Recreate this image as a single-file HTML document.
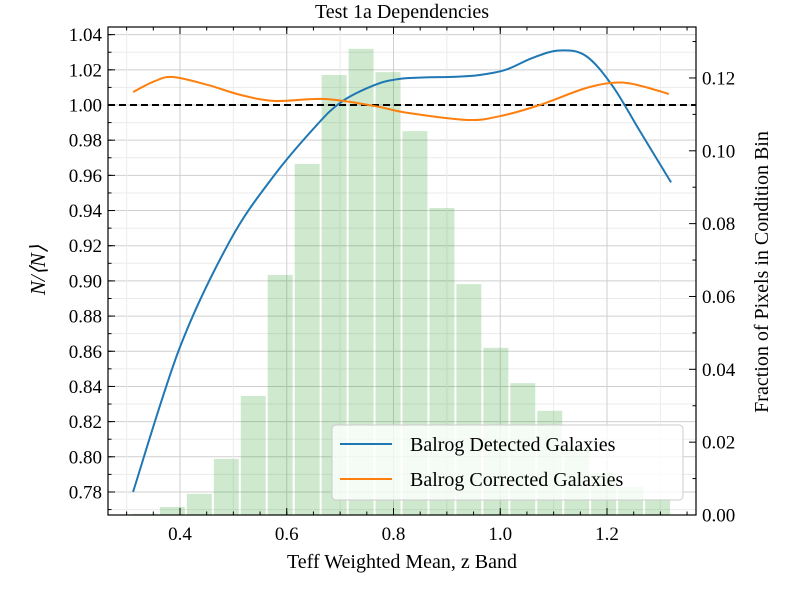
<!DOCTYPE html>
<html><head><meta charset="utf-8"><style>
body{margin:0;background:#fff}
svg text{font-family:"Liberation Serif",serif;fill:#000}
</style></head><body>
<svg id="c" width="800" height="600" xmlns="http://www.w3.org/2000/svg"></svg>
<script>
const histEdgeStart = 0.31, histBinWidth = 0.0505;
const histValues = [0.0003,0.0022,0.0058,0.0154,0.0327,0.0659,0.0964,0.1208,0.128,0.1216,0.1054,0.0843,0.0634,0.0459,0.0362,0.0286,0.0184,0.0115,0.0077,0.0044];
const blueX = [0.312,0.40,0.494,0.574,0.653,0.702,0.765,0.81,0.86,0.91,0.96,1.01,1.06,1.11,1.16,1.21,1.26,1.32];
const blueY = [0.780,0.8624,0.923,0.959,0.9875,1.0017,1.0114,1.0148,1.0157,1.016,1.017,1.020,1.0267,1.031,1.028,1.011,0.986,0.956];
const orangeX = [0.312,0.353,0.387,0.452,0.514,0.578,0.672,0.765,0.827,0.938,1.0,1.074,1.155,1.206,1.249,1.316];
const orangeY = [1.0074,1.0136,1.0159,1.0114,1.0057,1.0023,1.0034,0.9994,0.9955,0.9915,0.9937,1.0,1.0091,1.0125,1.0119,1.0063];
const xTicks = [0.4,0.6,0.8,1.0,1.2];
const xTickLabels = ["0.4","0.6","0.8","1.0","1.2"];
const yTicks = [0.78,0.80,0.82,0.84,0.86,0.88,0.90,0.92,0.94,0.96,0.98,1.00,1.02,1.04];
const y2Ticks = [0,0.02,0.04,0.06,0.08,0.10,0.12];

const L=108,R=696,T=27,B=515;
const X=v=>180+(v-0.4)*533.75;
const Y=v=>105-(v-1.0)*1759;
const Y2=v=>515-v*3642;
const svg=document.getElementById('c');
const NS="http://www.w3.org/2000/svg";
function mk(tag,attrs,parent){const e=document.createElementNS(NS,tag);for(const k in attrs)e.setAttribute(k,attrs[k]);(parent||svg).appendChild(e);return e;}

const grid=mk('g',{});


for(let v=0.77;v<=1.045;v+=0.01){const y=Y(v);const major=Math.round(v*100)%2===0;
 mk('line',{x1:L,x2:R,y1:y,y2:y,stroke:major?'#cfcfcf':'#ebebeb','stroke-width':1},grid);}
for(let v=0.3;v<=1.36;v+=0.1){const x=X(v);const major=Math.round(v*10)%2===0;
 mk('line',{x1:x,x2:x,y1:T,y2:B,stroke:major?'#cfcfcf':'#ebebeb','stroke-width':1},grid);}

const hg=mk('g',{});


histValues.forEach((v,i)=>{const x0=X(histEdgeStart+i*histBinWidth),x1=X(histEdgeStart+(i+1)*histBinWidth);
 const r=mk('rect',{x:x0+1,y:Y2(v),width:x1-x0-2,height:B-Y2(v),fill:'rgba(44,160,44,0.23)'},hg);
 
 });

const ref=mk('line',{x1:L,x2:R,y1:Y(1),y2:Y(1),stroke:'#000','stroke-width':2,'stroke-dasharray':'7,4'});



function smooth(xs,ys){const p=xs.map((x,i)=>[X(x),Y(ys[i])]);let d=`M${p[0][0]},${p[0][1]}`;
 for(let i=0;i<p.length-1;i++){const p0=p[i-1]||p[i],p1=p[i],p2=p[i+1],p3=p[i+2]||p2;
  d+=` C${p1[0]+(p2[0]-p0[0])/6},${p1[1]+(p2[1]-p0[1])/6} ${p2[0]-(p3[0]-p1[0])/6},${p2[1]-(p3[1]-p1[1])/6} ${p2[0]},${p2[1]}`;}
 return d;}
const bl=mk('path',{d:smooth(blueX,blueY),fill:'none',stroke:'#1f77b4','stroke-width':2});


const ol=mk('path',{d:smooth(orangeX,orangeY),fill:'none',stroke:'#ff7f0e','stroke-width':2});



mk('rect',{x:L,y:T,width:R-L,height:B-T,fill:'none',stroke:'#000','stroke-width':1.2});
const tk=mk('g',{stroke:'#000','stroke-width':1});
xTicks.forEach((v,i)=>{const x=X(v);mk('line',{x1:x,x2:x,y1:B,y2:B-7},tk);mk('line',{x1:x,x2:x,y1:T,y2:T+7},tk);
 const t=mk('text',{x:x,y:B+25,'font-size':19,'text-anchor':'middle'});t.textContent=xTickLabels[i];
 
 });
for(let v=0.3;v<=1.36;v+=0.05){const x=X(v);mk('line',{x1:x,x2:x,y1:B,y2:B-3.5},tk);mk('line',{x1:x,x2:x,y1:T,y2:T+3.5},tk);}
yTicks.forEach(v=>{const y=Y(v);mk('line',{x1:L,x2:L+7,y1:y,y2:y},tk);
 const t=mk('text',{x:L-6,y:y+6.5,'font-size':19,'text-anchor':'end'});t.textContent=v.toFixed(2);
 
 });
for(let v=0.77;v<=1.045;v+=0.01){mk('line',{x1:L,x2:L+3.5,y1:Y(v),y2:Y(v)},tk);}
y2Ticks.forEach(v=>{const y=Y2(v);mk('line',{x1:R,x2:R-7,y1:y,y2:y},tk);
 const t=mk('text',{x:R+6,y:y+6.5,'font-size':19});t.textContent=v.toFixed(2);
 
 });
for(let v=0.01;v<=0.13;v+=0.02){mk('line',{x1:R,x2:R-3.5,y1:Y2(v),y2:Y2(v)},tk);}

const tt=mk('text',{x:402,y:18,'font-size':20,'text-anchor':'middle'});tt.textContent='Test 1a Dependencies';

const xt=mk('text',{x:402,y:568,'font-size':20,'text-anchor':'middle'});xt.textContent='Teff Weighted Mean, z Band';

const yt=mk('text',{x:0,y:0,'font-size':21,'text-anchor':'middle','font-style':'italic',transform:'translate(45,270) rotate(-90)'});yt.textContent='N/⟨N⟩';

const y2t=mk('text',{x:0,y:0,'font-size':20,'text-anchor':'middle',transform:'translate(768,272) rotate(-90)'});y2t.textContent='Fraction of Pixels in Condition Bin';


const lg=mk('g',{});


mk('rect',{x:332,y:425,width:351,height:75,rx:4,fill:'rgba(255,255,255,0.8)',stroke:'#cccccc'},lg);
mk('line',{x1:340,x2:392,y1:444,y2:444,stroke:'#1f77b4','stroke-width':2},lg);
mk('line',{x1:340,x2:392,y1:479,y2:479,stroke:'#ff7f0e','stroke-width':2},lg);
const l1=mk('text',{x:410,y:451,'font-size':20},lg);l1.textContent='Balrog Detected Galaxies';

const l2=mk('text',{x:410,y:486,'font-size':20},lg);l2.textContent='Balrog Corrected Galaxies';

</script>
</body></html>
